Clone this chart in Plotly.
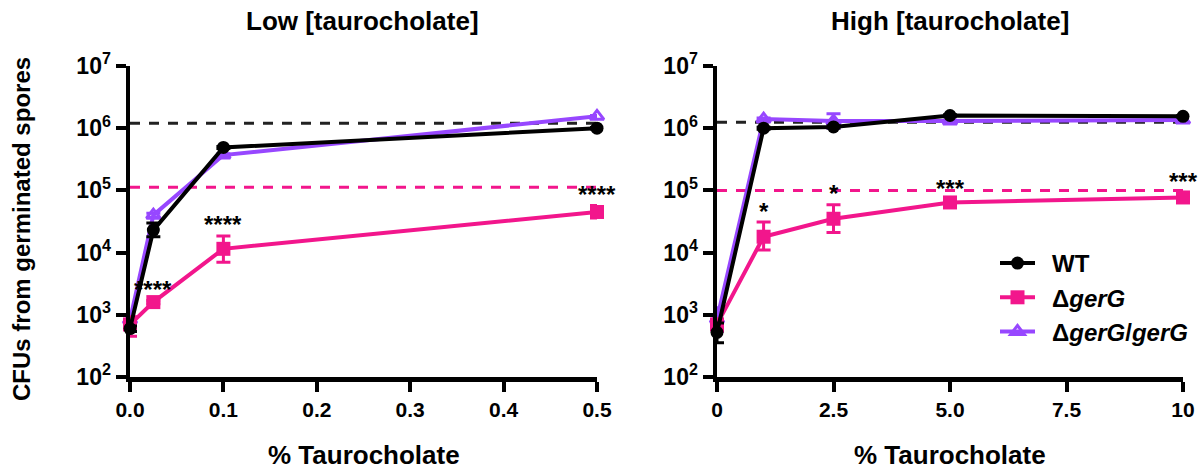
import numpy as np
import plotly.graph_objects as go

# ---------------- data ----------------
low_x = [0.0, 0.025, 0.1, 0.5]
low_wt = [600, 23000, 490000, 1000000]
low_wt_up = [60, 7000, 20000, 30000]
low_wt_dn = [60, 5000, 20000, 30000]
low_mut = [700, 1600, 11500, 45000]
low_mut_up = [230, 100, 7000, 12000]
low_mut_dn = [250, 100, 4500, 9000]
low_comp = [830, 40000, 370000, 1550000]
low_comp_up = [60, 3000, 20000, 50000]
low_comp_dn = [60, 3000, 20000, 50000]
low_wt_ref = 1200000
low_mut_ref = 112000
low_stars = ["", "****", "****", "****"]

high_x = [0, 1, 2.5, 5, 10]
high_wt = [520, 1000000, 1050000, 1600000, 1550000]
high_wt_up = [220, 40000, 40000, 40000, 40000]
high_wt_dn = [165, 40000, 40000, 40000, 40000]
high_mut = [700, 18000, 35000, 64000, 77000]
high_mut_up = [150, 13000, 24000, 8000, 15000]
high_mut_dn = [150, 7000, 14000, 7000, 12000]
high_comp = [850, 1400000, 1300000, 1300000, 1350000]
high_comp_up = [450, 60000, 400000, 60000, 60000]
high_comp_dn = [300, 60000, 300000, 60000, 60000]
high_wt_ref = 1250000
high_mut_ref = 100000
high_stars = ["", "*", "*", "***", "***"]

y_tickvals = [1e2, 1e3, 1e4, 1e5, 1e6, 1e7]
y_ticktext = ["10<sup>2</sup>", "10<sup>3</sup>", "10<sup>4</sup>", "10<sup>5</sup>",
              "10<sup>6</sup>", "10<sup>7</sup>"]
low_xticks = [0.0, 0.1, 0.2, 0.3, 0.4, 0.5]
low_xticktext = ["0.0", "0.1", "0.2", "0.3", "0.4", "0.5"]
high_xticks = [0, 2.5, 5, 7.5, 10]
high_xticktext = ["0", "2.5", "5.0", "7.5", "10"]

names = ["\u2002WT", "\u2002Δ<i>gerG</i>", "\u2002Δ<i>gerG</i>/<i>gerG</i>"]

# ---------------- style ----------------
BLACK = "#000000"
PINK = "#F2168C"
PURPLE = "#9747FF"
FONT = "Liberation Sans, Arial, sans-serif"
W, H = 1199, 472


def px(x):
    return x / W


def py(y):
    return 1 - y / H


fig = go.Figure()


def add_panel(xs, wt, wtu, wtd, mut, mutu, mutd, comp, compu, compd,
              wref, mref, xa, ya, show):
    xmax = max(xs)
    # reference dashed lines
    fig.add_trace(go.Scatter(x=[0, xmax], y=[wref, wref], mode="lines",
                             line=dict(color="#222222", width=3, dash="10px,9px"),
                             xaxis=xa, yaxis=ya, showlegend=False, hoverinfo="skip"))
    fig.add_trace(go.Scatter(x=[0, xmax], y=[mref, mref], mode="lines",
                             line=dict(color=PINK, width=3, dash="10px,9px"),
                             xaxis=xa, yaxis=ya, showlegend=False, hoverinfo="skip"))
    # complemented
    fig.add_trace(go.Scatter(x=xs, y=comp, mode="lines+markers", name=names[2],
                             line=dict(color=PURPLE, width=4),
                             marker=dict(symbol="triangle-up-open", size=12, color=PURPLE,
                                         line=dict(width=3, color=PURPLE)),
                             error_y=dict(type="data", array=compu, arrayminus=compd,
                                          color=PURPLE, thickness=3, width=7),
                             xaxis=xa, yaxis=ya, showlegend=show, legendrank=3,
                             cliponaxis=False))
    # mutant
    fig.add_trace(go.Scatter(x=xs, y=mut, mode="lines+markers", name=names[1],
                             line=dict(color=PINK, width=4),
                             marker=dict(symbol="square", size=14, color=PINK),
                             error_y=dict(type="data", array=mutu, arrayminus=mutd,
                                          color=PINK, thickness=3, width=7),
                             xaxis=xa, yaxis=ya, showlegend=show, legendrank=2,
                             cliponaxis=False))
    # WT
    fig.add_trace(go.Scatter(x=xs, y=wt, mode="lines+markers", name=names[0],
                             line=dict(color=BLACK, width=4),
                             marker=dict(symbol="circle", size=13, color=BLACK),
                             error_y=dict(type="data", array=wtu, arrayminus=wtd,
                                          color=BLACK, thickness=3, width=7),
                             xaxis=xa, yaxis=ya, showlegend=show, legendrank=1,
                             cliponaxis=False))


add_panel(low_x, low_wt, low_wt_up, low_wt_dn, low_mut, low_mut_up, low_mut_dn,
          low_comp, low_comp_up, low_comp_dn, low_wt_ref, low_mut_ref, "x", "y", False)
add_panel(high_x, high_wt, high_wt_up, high_wt_dn, high_mut, high_mut_up, high_mut_dn,
          high_comp, high_comp_up, high_comp_dn, high_wt_ref, high_mut_ref, "x2", "y2", True)

# significance stars (placed above the mutant's upper error bar)
annotations = []
for xs, mut, up, stars, xr, yr in [(low_x, low_mut, low_mut_up, low_stars, "x", "y"),
                                   (high_x, high_mut, high_mut_up, high_stars, "x2", "y2")]:
    for xv, m, u, s in zip(xs, mut, up, stars):
        if s:
            annotations.append(dict(x=xv, y=float(np.log10(m + u)), xref=xr, yref=yr,
                                    text=s, showarrow=False, xanchor="center",
                                    yanchor="middle", yshift=11,
                                    font=dict(family=FONT, size=24, color="black", weight="bold")))

# titles
tf = dict(family=FONT, size=26, color="black")
annotations += [
    dict(x=px(362), y=py(21), xref="paper", yref="paper", text="<b>Low [taurocholate]</b>",
         showarrow=False, font=tf, xanchor="center", yanchor="middle"),
    dict(x=px(950), y=py(21), xref="paper", yref="paper", text="<b>High [taurocholate]</b>",
         showarrow=False, font=tf, xanchor="center", yanchor="middle"),
    dict(x=px(364), y=py(455), xref="paper", yref="paper", text="<b>% Taurocholate</b>",
         showarrow=False, font=tf, xanchor="center", yanchor="middle"),
    dict(x=px(950), y=py(455), xref="paper", yref="paper", text="<b>% Taurocholate</b>",
         showarrow=False, font=tf, xanchor="center", yanchor="middle"),
    dict(x=px(22), y=py(229), xref="paper", yref="paper",
         text="<b>CFUs from germinated spores</b>", textangle=-90,
         showarrow=False, font=dict(family=FONT, size=24, color="black"),
         xanchor="center", yanchor="middle"),
]

yd = [py(377), py(66)]
axis_common = dict(showline=True, linecolor="black", linewidth=4.5, ticks="outside",
                   ticklen=10, tickwidth=4, tickcolor="black", showgrid=False, zeroline=False,
                   automargin=False,
                   tickfont=dict(family=FONT, size=21, color="black", weight="bold"))
yaxis_common = dict(axis_common, type="log", range=[2, 7], tickvals=y_tickvals,
                    ticktext=y_ticktext, tickfont=dict(family=FONT, size=23, color="black",
                                                       weight="bold"))

fig.update_layout(
    width=W, height=H,
    margin=dict(l=0, r=0, t=0, b=0, pad=0, autoexpand=False),
    paper_bgcolor="white", plot_bgcolor="white",
    showlegend=True,
    xaxis=dict(axis_common, domain=[px(130), px(597)], range=[0, 0.5],
               tickvals=low_xticks, ticktext=low_xticktext, anchor="y"),
    yaxis=dict(yaxis_common, domain=yd, anchor="x"),
    xaxis2=dict(axis_common, domain=[px(717), px(1183)], range=[0, 10],
                tickvals=high_xticks, ticktext=high_xticktext, anchor="y2"),
    yaxis2=dict(yaxis_common, domain=yd, anchor="x2"),
    legend=dict(x=px(995), y=py(241), xanchor="left", yanchor="top",
                bgcolor="rgba(0,0,0,0)", font=dict(family=FONT, size=24, color="black",
                                                  weight="bold"),
                itemwidth=35, tracegroupgap=0),
    annotations=annotations,
)

fig.write_html(
    "out.html",
    config={"displayModeBar": False, "staticPlot": True},
    post_script="document.body.style.margin='0';document.body.style.overflow='hidden';",
)
